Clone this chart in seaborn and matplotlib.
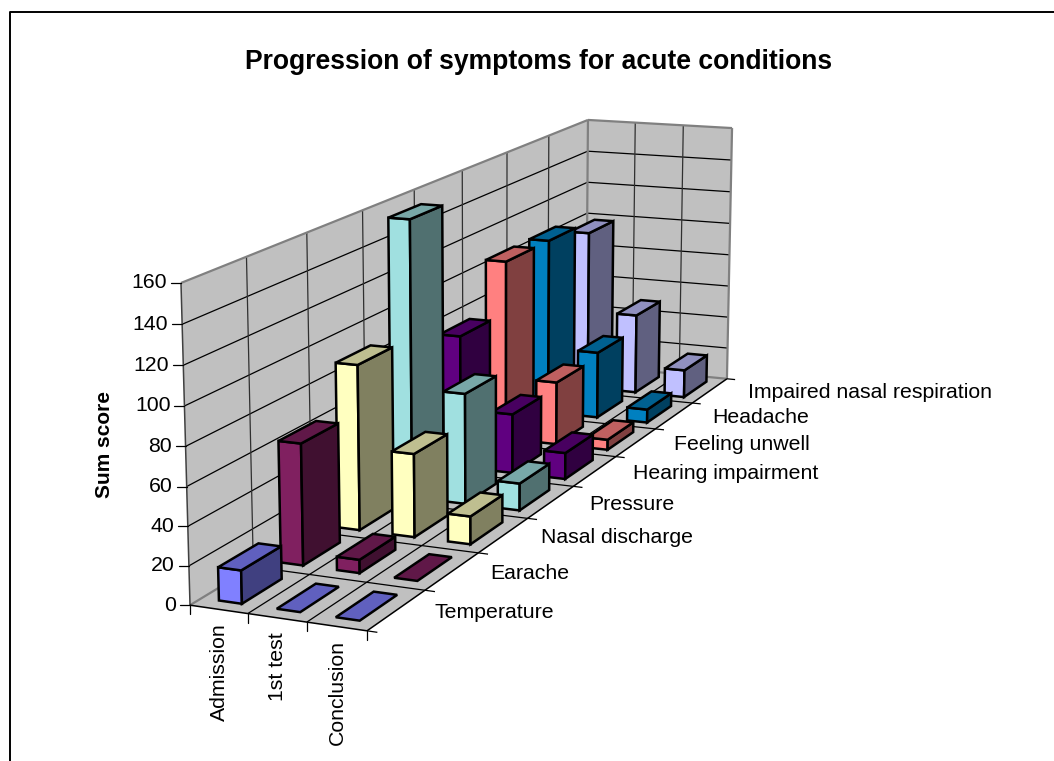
import numpy as np
import matplotlib
matplotlib.use("Agg")
import matplotlib.pyplot as plt
from matplotlib.patches import Polygon
import seaborn as sns

stages = ["Admission", "1st test", "Conclusion"]
symptoms = ["Temperature", "Earache", "Nasal discharge", "Pressure",
            "Hearing impairment", "Feeling unwell", "Headache",
            "Impaired nasal respiration"]
temperature = [17, 0, 0]
earache = [64, 7, 0]
nasal_discharge = [89.5, 45, 15]
pressure = [154.5, 61.5, 15]
hearing_impairment = [76, 34, 15]
feeling_unwell = [106, 37, 6]
headache = [106, 40, 8]
impaired_respiration = [98.5, 49, 17]
y_ticks = list(range(0, 161, 20))
bar_colors = ["#8080FF", "#802060", "#FFFFC0", "#A0E0E0",
              "#600080", "#FF8080", "#0080C0", "#C0C0FF"]

scores = np.array([temperature, earache, nasal_discharge, pressure,
                   hearing_impairment, feeling_unwell, headache,
                   impaired_respiration], dtype=float)

sns.set_theme(style="white")
plt.rcParams["font.family"] = ["Liberation Sans", "DejaVu Sans"]
plt.rcParams["text.color"] = "black"
palette = sns.color_palette(bar_colors)

# box corners as seen in the picture, used to fit the perspective camera
world_pts = [(0, 0, 0), (0, 0, 160), (0, 8, 160), (0, 8, 0),
             (3, 8, 160), (3, 8, 0), (3, 0, 0)]
image_pts = [(190, 604), (181, 283), (588, 119), (586, 367),
             (732, 129), (727, 377), (367, 632)]


def fit_camera(world, image):
    rows, rhs = [], []
    for (x, y, z), (u, v) in zip(world, image):
        rows.append([x, y, z, 1, 0, 0, 0, 0, -u * x, -u * y, -u * z])
        rows.append([0, 0, 0, 0, x, y, z, 1, -v * x, -v * y, -v * z])
        rhs += [u, v]
    sol = np.linalg.lstsq(np.array(rows, float), np.array(rhs, float), rcond=None)[0]
    return np.append(sol, 1).reshape(3, 4)


camera = fit_camera(world_pts, image_pts)


def project(x, y, z):
    p = camera @ np.array([x, y, z, 1.0])
    return p[0] / p[2], p[1] / p[2]


def shade(color, k):
    return tuple(c * k for c in color)


fig = plt.figure(figsize=(10.54, 7.61), dpi=100)
ax = fig.add_axes([0, 0, 1, 1])
ax.set_xlim(0, 1054)
ax.set_ylim(761, 0)
ax.axis("off")

# chart area frame, its right and bottom sides are cropped off
ax.plot([9.5, 9.5, 1054], [761, 12, 12], color="black", lw=1.4)


def face(points, color, z=3):
    ax.add_patch(Polygon([project(*p) for p in points], closed=True, facecolor=color,
                         edgecolor="black", lw=1.8, joinstyle="miter", zorder=z))


def line(a, b, color="black", lw=0.9, z=2):
    pa, pb = project(*a), project(*b)
    ax.plot([pa[0], pb[0]], [pa[1], pb[1]], color=color, lw=lw, zorder=z,
            solid_capstyle="butt")


wall = "#C0C0C0"
edge = "#808080"
for pts in ([(0, 0, 0), (0, 8, 0), (0, 8, 160), (0, 0, 160)],
            [(0, 8, 0), (3, 8, 0), (3, 8, 160), (0, 8, 160)],
            [(0, 0, 0), (3, 0, 0), (3, 8, 0), (0, 8, 0)]):
    ax.add_patch(Polygon([project(*p) for p in pts], closed=True, facecolor=wall,
                         edgecolor="none", zorder=1))

# gridlines on walls and floor
for v in y_ticks[1:-1]:
    line((0, 0, v), (0, 8, v))
    line((0, 8, v), (3, 8, v))
for j in range(1, 8):
    line((0, j, 0), (0, j, 160), color="#303030")
    line((0, j, 0), (3, j, 0))
for i in range(1, 3):
    line((i, 8, 0), (i, 8, 160), color="#303030")
    line((i, 0, 0), (i, 8, 0))

# wall edges
for a, b in [((0, 0, 160), (0, 8, 160)), ((0, 8, 160), (3, 8, 160)),
             ((3, 8, 160), (3, 8, 0)), ((0, 8, 160), (0, 8, 0)),
             ((0, 0, 0), (0, 8, 0)), ((0, 8, 0), (3, 8, 0))]:
    line(a, b, color=edge, lw=1.6)
line((0, 0, 0), (0, 0, 160), color="#404040", lw=1.1)
line((0, 0, 0), (3, 0, 0), lw=1.1)
line((3, 0, 0), (3, 8, 0), lw=1.1)

# axis ticks and labels
for v in y_ticks:
    x0, y0 = project(0, 0, v)
    ax.plot([x0 - 10, x0], [y0, y0], color="black", lw=0.9, zorder=2)
    ax.text(x0 - 14, y0, str(v), ha="right", va="center", fontsize=15.3)
for i in range(4):
    x0, y0 = project(i, 0, 0)
    ax.plot([x0, x0], [y0, y0 + 9], color="black", lw=0.9, zorder=2)
for i, name in enumerate(stages):
    x0, y0 = project(i + 0.5, 0, 0)
    ax.text(x0 + 0.5, y0 + 14, name, rotation=90, ha="center", va="top", fontsize=15.3)
for j in range(9):
    line((3, j, 0), (3.17, j, 0))
for j, name in enumerate(symptoms):
    x0, y0 = project(3, j + 0.5, 0)
    ax.text(x0 + 38, y0 + 2, name, ha="left", va="center", fontsize=15.3)

# bars, back row first and left to right so nearer bars cover the others
bar_w, bar_d = 0.4, 0.64
layer = 10
for j in range(len(symptoms) - 1, -1, -1):
    color = palette[j]
    for i in range(len(stages)):
        h = scores[j, i]
        x0, x1 = i + 0.3, i + 0.3 + bar_w
        y0, y1 = j + 0.18, j + 0.18 + bar_d
        if h > 0:
            face([(x0, y0, 0), (x1, y0, 0), (x1, y0, h), (x0, y0, h)], color, layer)
            face([(x1, y0, 0), (x1, y1, 0), (x1, y1, h), (x1, y0, h)], shade(color, 0.5), layer)
        face([(x0, y0, h), (x1, y0, h), (x1, y1, h), (x0, y1, h)], shade(color, 0.75), layer)
        layer += 1

ax.text(539, 62, "Progression of symptoms for acute conditions", ha="center",
        va="center", fontsize=19.1, fontweight="bold")
ax.text(104.5, 444.5, "Sum score", rotation=90, ha="center", va="center",
        fontsize=15, fontweight="bold")

fig.savefig("out.png", dpi=100)
plt.close(fig)
